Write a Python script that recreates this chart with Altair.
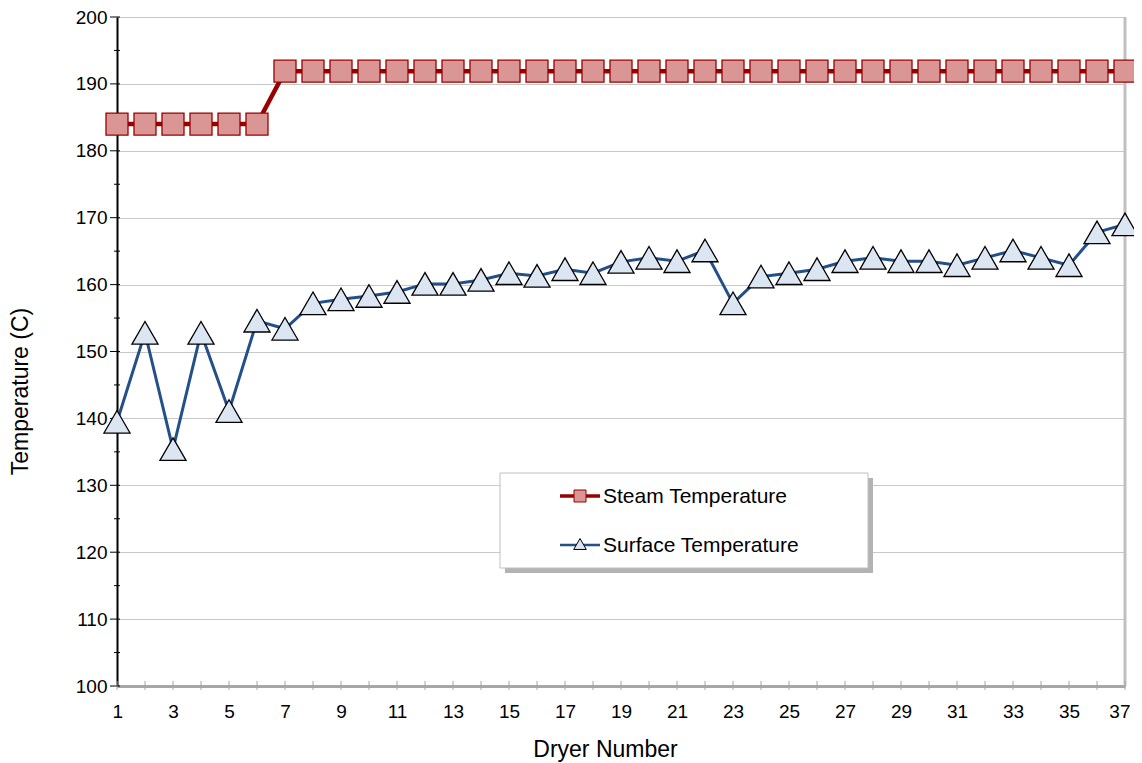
import altair as alt
import pandas as pd

dryers = [1, 2, 3, 4, 5, 6, 7, 8, 9, 10, 11, 12, 13, 14, 15, 16, 17, 18, 19,
          20, 21, 22, 23, 24, 25, 26, 27, 28, 29, 30, 31, 32, 33, 34, 35, 36, 37]
steam_temp = [184.0, 184.0, 184.0, 184.0, 184.0, 184.0, 191.9, 191.9, 191.9, 191.9,
              191.9, 191.9, 191.9, 191.9, 191.9, 191.9, 191.9, 191.9, 191.9, 191.9,
              191.9, 191.9, 191.9, 191.9, 191.9, 191.9, 191.9, 191.9, 191.9, 191.9,
              191.9, 191.9, 191.9, 191.9, 191.9, 191.9, 191.9]
surface_temp = [139.5, 152.8, 135.4, 152.8, 141.1, 154.6, 153.4, 157.2, 157.8, 158.3,
                158.9, 160.1, 160.1, 160.7, 161.7, 161.3, 162.3, 161.7, 163.4, 164.0,
                163.5, 165.1, 157.2, 161.2, 161.7, 162.3, 163.5, 164.0, 163.5, 163.5,
                162.9, 164.0, 165.1, 164.0, 162.9, 167.8, 169.0]
series_names = ["Steam Temperature", "Surface Temperature"]
x_labels = [1, 3, 5, 7, 9, 11, 13, 15, 17, 19, 21, 23, 25, 27, 29, 31, 33, 35, 37]
y_major = [100, 110, 120, 130, 140, 150, 160, 170, 180, 190, 200]
y_minor = [105, 115, 125, 135, 145, 155, 165, 175, 185, 195]

FONT = "Liberation Sans"
RED = "#990000"
RED_FILL = "#D99694"
BLUE = "#24508A"
BLUE_FILL = "#DCE6F2"

steam_df = pd.DataFrame({"dryer": dryers, "temp": steam_temp})
surf_df = pd.DataFrame({"dryer": dryers, "temp": surface_temp})
ymaj_df = pd.DataFrame({"temp": y_major})
ymin_df = pd.DataFrame({"temp": y_minor})
xt_df = pd.DataFrame({"dryer": dryers})
one = pd.DataFrame({"k": [0]})

x_enc = alt.X("dryer:Q",
              scale=alt.Scale(domain=[1, 37], nice=False, zero=False),
              axis=alt.Axis(values=x_labels, format="d", title="Dryer Number",
                            grid=False, ticks=False, labelPadding=16,
                            labelFlush=True, labelFlushOffset=5,
                            domainColor="#a6a6a6", domainWidth=3,
                            titleX=488, titleY=70, titleAlign="center",
                            titleBaseline="alphabetic", zindex=0))
y_enc = alt.Y("temp:Q",
              scale=alt.Scale(domain=[100, 200], nice=False, zero=False),
              axis=alt.Axis(values=y_major, format="d", title="Temperature (C)",
                            grid=True, gridColor="#c8c8c8", gridWidth=1,
                            ticks=False, labelPadding=10, labelFlush=False,
                            domainColor="#000000", domainWidth=2,
                            titleX=-90, titleY=374, titleAlign="center",
                            titleBaseline="alphabetic", titleAngle=270, zindex=0))

x_plain = alt.X("dryer:Q", scale=alt.Scale(domain=[1, 37], nice=False, zero=False))
y_plain = alt.Y("temp:Q", scale=alt.Scale(domain=[100, 200], nice=False, zero=False))

# right border of plot area
border = alt.Chart(one).mark_rule(color="#c0c0c0", strokeWidth=3).encode(
    x=alt.datum(37), y=alt.datum(100), y2=alt.datum(200))

# axis tick marks crossing the axis lines
y_major_ticks = alt.Chart(ymaj_df).mark_rule(color="#000000", strokeWidth=1).encode(
    y=y_plain, x=alt.value(-7), x2=alt.value(3))
y_minor_ticks = alt.Chart(ymin_df).mark_rule(color="#000000", strokeWidth=1).encode(
    y=y_plain, x=alt.value(-3), x2=alt.value(3))
x_ticks = alt.Chart(xt_df).mark_rule(color="#a6a6a6", strokeWidth=1).encode(
    x=x_plain, y=alt.value(664), y2=alt.value(673))

steam_line = alt.Chart(steam_df).mark_line(color=RED, strokeWidth=4.5).encode(
    x=x_enc, y=y_enc)
steam_pts = alt.Chart(steam_df).mark_point(
    shape="square", size=484, filled=True, fill=RED_FILL, stroke=RED,
    strokeWidth=1.3, opacity=1).encode(x=x_plain, y=y_plain)
surf_line = alt.Chart(surf_df).mark_line(color=BLUE, strokeWidth=3).encode(
    x=x_plain, y=y_plain)
surf_pts = alt.Chart(surf_df).mark_point(
    shape="triangle-up", size=680, filled=True, fill=BLUE_FILL, stroke="#000000",
    strokeWidth=1.3, opacity=1).encode(x=x_plain, y=y_plain)

# legend box (plot-area pixel coordinates)
lg_shadow = alt.Chart(one).mark_rect(color="#b3b3b3").encode(
    x=alt.value(388), x2=alt.value(756), y=alt.value(461), y2=alt.value(556))
lg_box = alt.Chart(one).mark_rect(fill="#ffffff", stroke="#bfbfbf", strokeWidth=1).encode(
    x=alt.value(383), x2=alt.value(751), y=alt.value(456), y2=alt.value(551))
lg_l1 = alt.Chart(one).mark_rule(color=RED, strokeWidth=3.5).encode(
    x=alt.value(443), x2=alt.value(483), y=alt.value(479))
lg_p1 = alt.Chart(one).mark_point(shape="square", size=144, filled=True, fill=RED_FILL,
                                  stroke=RED, strokeWidth=1, opacity=1).encode(
    x=alt.value(463), y=alt.value(479))
lg_t1 = alt.Chart(one).mark_text(align="left", baseline="middle", font=FONT,
                                 fontSize=21, color="#000000").encode(
    x=alt.value(486), y=alt.value(480), text=alt.value(series_names[0]))
lg_l2 = alt.Chart(one).mark_rule(color=BLUE, strokeWidth=2.5).encode(
    x=alt.value(443), x2=alt.value(483), y=alt.value(528))
lg_p2 = alt.Chart(one).mark_point(shape="triangle-up", size=160, filled=True,
                                  fill=BLUE_FILL, stroke="#000000", strokeWidth=1,
                                  opacity=1).encode(
    x=alt.value(463), y=alt.value(527))
lg_t2 = alt.Chart(one).mark_text(align="left", baseline="middle", font=FONT,
                                 fontSize=21, color="#000000").encode(
    x=alt.value(486), y=alt.value(529), text=alt.value(series_names[1]))

chart = alt.layer(
    steam_line, border, y_major_ticks, y_minor_ticks, x_ticks,
    surf_line, surf_pts, steam_pts,
    lg_shadow, lg_box, lg_l1, lg_p1, lg_t1, lg_l2, lg_p2, lg_t2,
).properties(
    width=1008, height=669,
    padding={"left": 109, "top": 9, "right": 9, "bottom": 76},
    autosize=alt.AutoSizeParams(type="none"),
    background="#ffffff",
).configure_view(
    strokeWidth=0
).configure_axis(
    labelFont=FONT, labelFontSize=19, labelColor="#000000",
    titleFont=FONT, titleFontSize=23, titleFontWeight="normal", titleColor="#000000",
)

chart.save("out.html", embed_options={"renderer": "svg", "actions": False})
